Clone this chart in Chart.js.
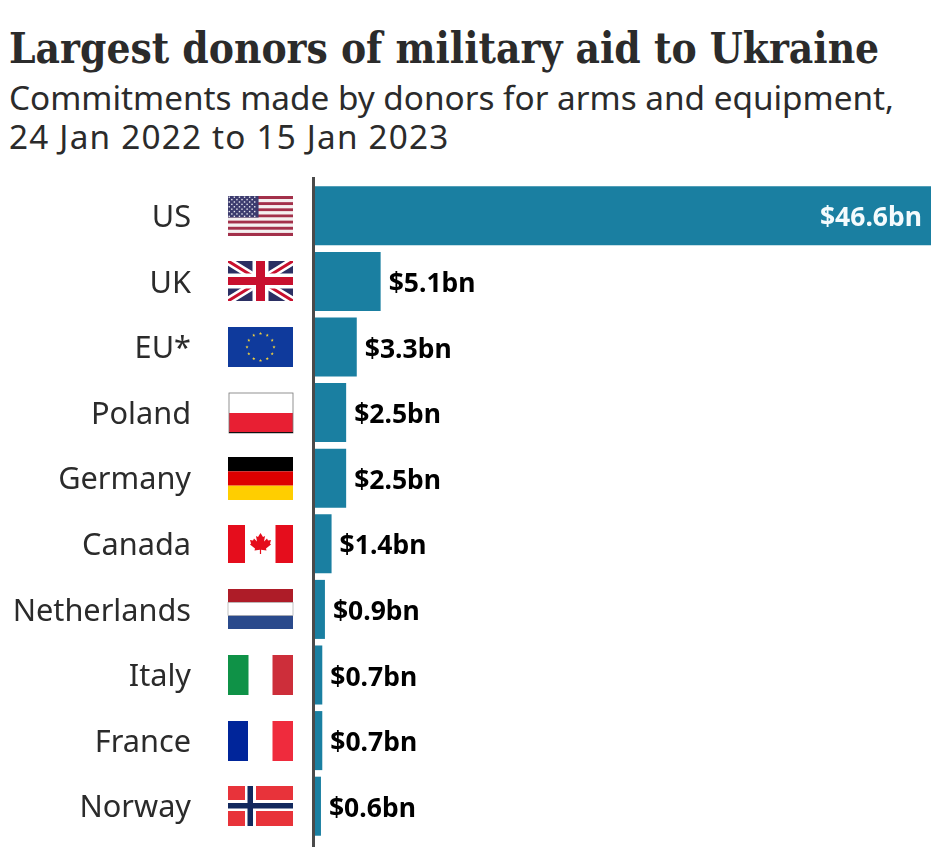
<!DOCTYPE html>
<html>
<head>
<meta charset="utf-8">
<title>Largest donors of military aid to Ukraine</title>
<script src="https://cdn.jsdelivr.net/npm/chart.js@4"></script>
<style>
  html, body { margin: 0; padding: 0; background: #fff; }
  #wrap { position: relative; width: 937px; height: 864px; overflow: hidden; }
  #title { position: absolute; left: 9px; top: 24px; margin: 0; white-space: nowrap;
    font: bold 42px "DejaVu Serif Condensed", "DejaVu Serif"; color: #2b2b2b; }
  #subtitle { position: absolute; left: 9px; top: 78px; margin: 0; white-space: nowrap;
    font: 33.3px/39px "Noto Sans"; color: #2b2b2b; }
  #subtitle span { letter-spacing: 1.2px; }
  canvas { position: absolute; left: 0; top: 0; }
</style>
</head>
<body>
<div id="wrap">
  <h1 id="title">Largest donors of military aid to Ukraine</h1>
  <p id="subtitle">Commitments made by donors for arms and equipment,<br><span>24 Jan 2022 to 15 Jan 2023</span></p>
  <canvas id="aidChart" width="937" height="864"></canvas>
</div>
<script>
const donors = ['US', 'UK', 'EU*', 'Poland', 'Germany', 'Canada', 'Netherlands', 'Italy', 'France', 'Norway'];
const aidBn = [46.6, 5.1, 3.3, 2.5, 2.5, 1.4, 0.9, 0.7, 0.7, 0.6];

const TEAL = '#1a7fa1';
const INK = '#2b2b2b';

// little flag painters, each draws into a box at x,y size w,h
function stripesH(ctx, x, y, w, h, cols) {
  cols.forEach((c, i) => {
    ctx.fillStyle = c;
    ctx.fillRect(x, y + h * i / cols.length, w, h / cols.length);
  });
}

function star(ctx, cx, cy, r) {
  ctx.beginPath();
  for (let i = 0; i < 10; i++) {
    const a = -Math.PI / 2 + i * Math.PI / 5;
    const rr = i % 2 ? r * 0.42 : r;
    ctx.lineTo(cx + Math.cos(a) * rr, cy + Math.sin(a) * rr);
  }
  ctx.closePath();
  ctx.fill();
}

const flags = {
  'US': (ctx, x, y, w, h) => {
    const stripes = [];
    for (let i = 0; i < 13; i++) stripes.push(i % 2 ? '#f4f0f0' : '#a3304a');
    stripesH(ctx, x, y, w, h, stripes);
    ctx.fillStyle = '#3c3b6e';
    ctx.fillRect(x, y, w * 0.47, h * 7 / 13);
    ctx.fillStyle = '#e8e8f0';
    for (let r = 0; r < 9; r++) {
      const n = r % 2 ? 5 : 6;
      for (let c = 0; c < n; c++) {
        const sx = x + w * 0.47 * ((r % 2 ? 1 : 0) + c * 2 + 0.5) / 12;
        const sy = y + (h * 7 / 13) * (r + 0.5) / 9;
        ctx.fillRect(sx - 0.7, sy - 0.7, 1.4, 1.4);
      }
    }
  },
  'UK': (ctx, x, y, w, h) => {
    ctx.save();
    ctx.beginPath();
    ctx.rect(x, y, w, h);
    ctx.clip();
    ctx.fillStyle = '#2b2f63';
    ctx.fillRect(x, y, w, h);
    ctx.lineWidth = 8;
    ctx.strokeStyle = '#fff';
    ctx.beginPath();
    ctx.moveTo(x, y); ctx.lineTo(x + w, y + h);
    ctx.moveTo(x + w, y); ctx.lineTo(x, y + h);
    ctx.stroke();
    ctx.lineWidth = 3;
    ctx.strokeStyle = '#c8102e';
    ctx.beginPath();
    ctx.moveTo(x, y); ctx.lineTo(x + w, y + h);
    ctx.moveTo(x + w, y); ctx.lineTo(x, y + h);
    ctx.stroke();
    ctx.fillStyle = '#fff';
    ctx.fillRect(x + w / 2 - 8, y, 16, h);
    ctx.fillRect(x, y + h / 2 - 7.5, w, 15);
    ctx.fillStyle = '#c8102e';
    ctx.fillRect(x + w / 2 - 4.5, y, 9, h);
    ctx.fillRect(x, y + h / 2 - 4, w, 8);
    ctx.restore();
  },
  'EU*': (ctx, x, y, w, h) => {
    ctx.fillStyle = '#0f3a9c';
    ctx.fillRect(x, y, w, h);
    ctx.fillStyle = '#f2d13c';
    for (let i = 0; i < 12; i++) {
      const a = i * Math.PI / 6;
      star(ctx, x + w / 2 + Math.cos(a) * 13.5, y + h / 2 + Math.sin(a) * 13.5, 1.7);
    }
  },
  'Poland': (ctx, x, y, w, h) => {
    stripesH(ctx, x + 1, y, w - 1, h, ['#ffffff', '#e81f33']);
    ctx.strokeStyle = '#777';
    ctx.lineWidth = 0.8;
    ctx.strokeRect(x + 1, y, w - 1, h);
    ctx.fillStyle = '#111';
    ctx.fillRect(x + 1, y + h - 1, w - 1, 1);
  },
  'Germany': (ctx, x, y, w, h) => stripesH(ctx, x, y - 1, w, h + 3, ['#000000', '#dd0000', '#ffce00']),
  'Canada': (ctx, x, y, w, h) => {
    ctx.fillStyle = '#e50d1c';
    ctx.fillRect(x, y + 1, 17, h - 2);
    ctx.fillRect(x + w - 17.5, y + 1, 17.5, h - 2);
    // maple leaf outline around the flag centre
    const leaf = [[0, -10], [2.5, -6], [4.5, -7], [3.5, -1.5], [6.5, -4.5], [7.5, -2.5], [10.5, -3], [9.5, 0.5], [10.5, 1.5],
      [5.5, 5.5], [6, 7.5], [0.6, 6.8], [0.6, 11], [-0.6, 11], [-0.6, 6.8], [-6, 7.5], [-5.5, 5.5], [-10.5, 1.5], [-9.5, 0.5],
      [-10.5, -3], [-7.5, -2.5], [-6.5, -4.5], [-3.5, -1.5], [-4.5, -7], [-2.5, -6]];
    ctx.beginPath();
    leaf.forEach(p => ctx.lineTo(x + w / 2 + p[0], y + h / 2 - 1 + p[1]));
    ctx.closePath();
    ctx.fill();
  },
  'Netherlands': (ctx, x, y, w, h) => {
    stripesH(ctx, x, y, w, h, ['#ae1c28', '#ffffff', '#2a4a8c']);
    ctx.strokeStyle = '#999';
    ctx.lineWidth = 0.6;
    ctx.strokeRect(x, y + h / 3, w, h / 3);
  },
  'Italy': (ctx, x, y, w, h) => {
    ctx.fillStyle = '#0f9247';
    ctx.fillRect(x, y, 20.5, h);
    ctx.fillStyle = '#cd2e3a';
    ctx.fillRect(x + w - 20.5, y, 20.5, h);
  },
  'France': (ctx, x, y, w, h) => {
    ctx.fillStyle = '#00259a';
    ctx.fillRect(x, y, 20, h);
    ctx.fillStyle = '#ef2b3d';
    ctx.fillRect(x + w - 20.5, y, 20.5, h);
  },
  'Norway': (ctx, x, y, w, h) => {
    ctx.fillStyle = '#e8333a';
    ctx.fillRect(x, y, w, h);
    ctx.fillStyle = '#fff';
    ctx.fillRect(x + 17, y, 11, h);
    ctx.fillRect(x, y + h / 2 - 6, w, 11);
    ctx.fillStyle = '#12295e';
    ctx.fillRect(x + 19.5, y, 5.5, h);
    ctx.fillRect(x, y + h / 2 - 3, w, 5.5);
  }
};

const extrasPlugin = {
  id: 'extras',
  afterDatasetsDraw(chart) {
    const { ctx } = chart;
    const xs = chart.scales.x;
    const ys = chart.scales.y;
    const zero = xs.getPixelForValue(0);

    // axis line, runs a bit past the plot area
    ctx.save();
    ctx.fillStyle = '#4a4a4a';
    ctx.fillRect(zero - 1, 177, 3, 670);

    donors.forEach((name, i) => {
      const cy = ys.getPixelForValue(i);
      flags[name](ctx, 228, Math.round(cy) - 20, 65, 40);

      // value labels, the longest bar keeps its label inside
      const end = xs.getPixelForValue(aidBn[i]);
      const inside = end > 800;
      ctx.font = 'bold 26.5px "Noto Sans"';
      ctx.textBaseline = 'middle';
      ctx.textAlign = inside ? 'right' : 'left';
      ctx.fillStyle = inside ? '#f4fbfd' : '#000';
      ctx.fillText('$' + aidBn[i].toFixed(1) + 'bn', inside ? end - 9 : end + 8, cy + 3);
    });
    ctx.restore();
  }
};

const aidChart = new Chart(document.getElementById('aidChart').getContext('2d'), {
  type: 'bar',
  data: {
    labels: donors,
    datasets: [{
      data: aidBn,
      backgroundColor: TEAL,
      barPercentage: 0.9,
      categoryPercentage: 1
    }]
  },
  options: {
    indexAxis: 'y',
    responsive: false,
    maintainAspectRatio: false,
    devicePixelRatio: 1,
    animation: false,
    layout: { padding: { top: 183, bottom: 25, right: 6 } },
    plugins: { legend: { display: false }, tooltip: { enabled: false } },
    scales: {
      x: { display: false, min: 0, max: 46.6 },
      y: {
        // big tick padding also eats vertical room, so drop that again
        afterFit(scale) {
          scale.width = 313;
          scale.paddingTop = 0;
          scale.paddingBottom = 0;
        },
        grid: { display: false, drawTicks: false },
        border: { display: false },
        ticks: {
          padding: 122,
          color: INK,
          font: { family: 'Noto Sans', size: 30.7 }
        }
      }
    }
  },
  plugins: [extrasPlugin]
});

// nudge the country names down a little, no tick option for this
const yAxis = aidChart.scales.y;
const drawLabels = yAxis.drawLabels.bind(yAxis);
yAxis.drawLabels = (area) => {
  aidChart.ctx.save();
  aidChart.ctx.translate(0, 2.5);
  drawLabels(area);
  aidChart.ctx.restore();
};
aidChart.draw();
</script>
</body>
</html>
